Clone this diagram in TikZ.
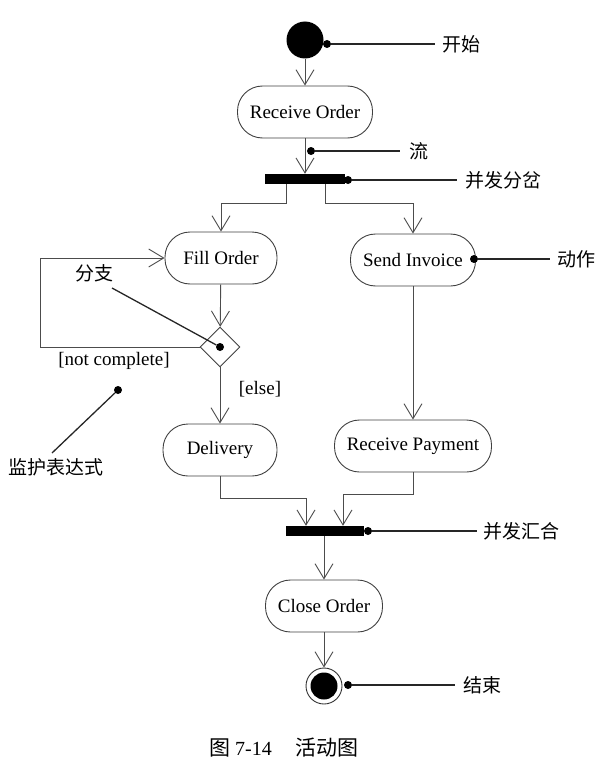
\documentclass[tikz,border=0pt]{standalone}
\usepackage{fontspec}
\setmainfont{Liberation Serif}
\newfontfamily\cjk{Noto Sans CJK SC}
\usetikzlibrary{arrows.meta,shapes.geometric}
\tikzset{
  act/.style={draw=black!75, line width=0.9pt, rounded corners=25pt, minimum height=52pt, inner sep=2pt, font=\fontsize{19}{22}\selectfont, fill=white},
  flow/.style={draw=black!70, line width=0.9pt, -{Straight Barb[length=15pt,width=18pt,line width=0.9pt]}},
  bar/.style={fill=black, draw=none, minimum height=10pt, inner sep=0pt},
  dot/.style={circle, fill=black, minimum size=8pt, inner sep=0pt},
  note/.style={line width=1.3pt, draw=black!85},
  cn/.style={font=\cjk\fontsize{19}{21}\selectfont, inner sep=0pt, anchor=west},
  lbl/.style={font=\fontsize{19}{22}\selectfont, inner sep=0pt},
}
\begin{document}
\begin{tikzpicture}[x=1pt,y=-1pt]
\useasboundingbox (0,0) rectangle (607,768);
% start
\node[circle, fill=black, minimum size=37pt, inner sep=0pt] (start) at (305,40) {};
\node[act, minimum width=135pt] (ro) at (305,112) {Receive Order};
\node[bar, minimum width=80pt] (fork) at (305,179) {};
\node[act, minimum width=112pt] (fill) at (221,258) {Fill Order};
\node[act, minimum width=125pt] (si) at (413,260) {Send Invoice};
\node[diamond, draw=black!75, line width=0.9pt, minimum width=40pt, minimum height=40pt, inner sep=0pt, fill=white] (dia) at (220,347) {};
\node[act, minimum width=114pt] (del) at (220,450) {Delivery};
\node[act, minimum width=157pt] (rp) at (413,446) {Receive Payment};
\node[bar, minimum width=78pt] (join) at (325,531) {};
\node[act, minimum width=117pt] (co) at (324,606) {Close Order};
\node[circle, draw=black!80, line width=0.9pt, minimum size=36pt, inner sep=0pt] (end) at (324,686) {};
\node[circle, fill=black, minimum size=27pt, inner sep=0pt] (endin) at (324,686) {};

% flows
\draw[flow] (start) -- (ro);
\draw[flow] (ro) -- (fork);
\draw[flow] ([xshift=-19pt]fork.south) -- ++(0,19) -| (fill.north);
\draw[flow] ([xshift=20pt]fork.south) -- ++(0,19) -| (si.north);
\draw[flow] (fill) -- (dia);
\coordinate (loopc) at (40,347);
\draw[flow] (dia.west) -- (loopc) |- (fill.west);
\draw[flow] (dia) -- (del);
\draw[flow] (si) -- (rp);
\draw[flow] (del.south) -- ++(0,22) -| ([xshift=-19pt]join.north);
\draw[flow] (rp.south) -- ++(0,22) -| ([xshift=18pt]join.north);
\draw[flow] (join.south -| co.north) -- (co.north);
\draw[flow] (co) -- (end);

% labels
\node[lbl] (nc) at (114,361) {[not complete]};
\node[lbl] (els) at (260,389) {[else]};

% annotations
\node[dot] (d1) at (327,44) {};
\node[cn] (t1) at (442,44) {开始};
\draw[note] (d1) -- ([xshift=-7pt]t1.west);

\node[dot] (d2) at (311,151) {};
\node[cn] (t2) at (409,151) {流};
\draw[note] (d2) -- ([xshift=-9pt]t2.west);

\node[dot] (d3) at (348,180) {};
\node[cn] (t3) at (465,180) {并发分岔};
\draw[note] (d3) -- ([xshift=-8pt]t3.west);

\node[dot] (d4) at (474,259) {};
\node[cn] (t4) at (557,259) {动作};
\draw[note] (d4) -- ([xshift=-7pt]t4.west);

\node[dot] (d5) at (220,347) {};
\node[cn] (t5) at (75,273) {分支};
\coordinate (e5) at (112,288);
\draw[note] (d5) -- (e5);

\node[dot] (d6) at (118,390) {};
\node[cn] (t6) at (8,467) {监护表达式};
\coordinate (e6) at (52,453);
\draw[note] (d6) -- (e6);

\node[dot] (d7) at (368,531) {};
\node[cn] (t7) at (483,531) {并发汇合};
\draw[note] (d7) -- ([xshift=-6pt]t7.west);

\node[dot] (d8) at (348,685) {};
\node[cn] (t8) at (463,685) {结束};
\draw[note] (d8) -- ([xshift=-8pt]t8.west);

% caption
\node[inner sep=0pt, anchor=west, font=\fontsize{20}{22}\selectfont] (cap) at (209,748) {{\cjk\fontsize{21}{22}\selectfont 图} 7-14\hspace{24pt}{\cjk\fontsize{21}{22}\selectfont 活动图}};
\end{tikzpicture}
\end{document}
